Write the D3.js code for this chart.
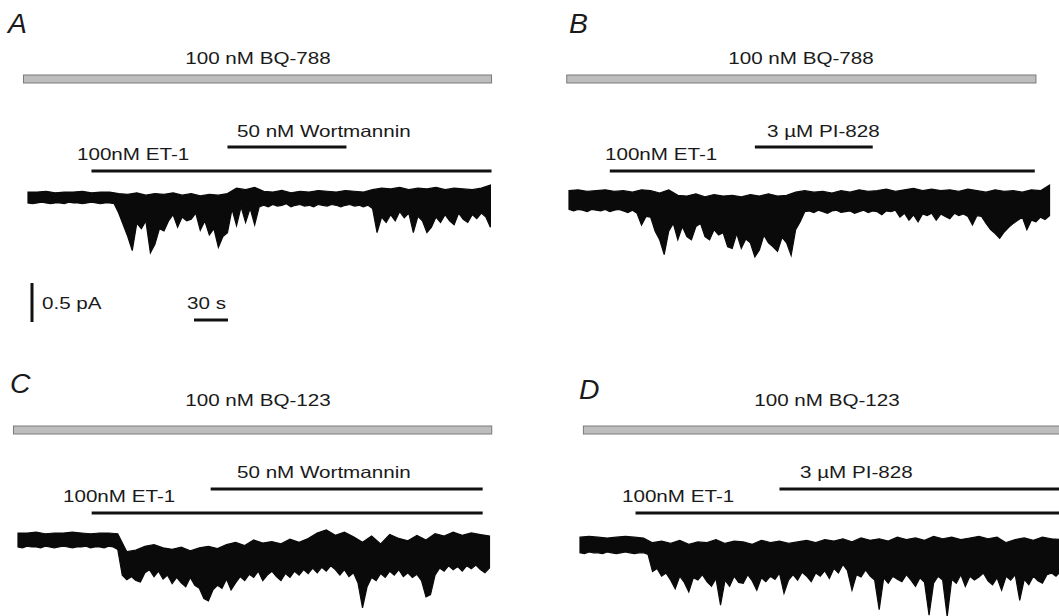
<!DOCTYPE html>
<html>
<head>
<meta charset="utf-8">
<script src="https://cdn.jsdelivr.net/npm/d3@7"></script>
<style>
  body { margin: 0; background: #fff; }
  text { font-family: "Liberation Sans", Arial, sans-serif; fill: #1a1a1a; }
</style>
</head>
<body>
<svg id="chart" width="1059" height="616"></svg>
<script>
// panel texts
const panelLetters = ["A", "B", "C", "D"]
const antagonists = ["100 nM BQ-788", "100 nM BQ-788", "100 nM BQ-123", "100 nM BQ-123"]
const inhibitors = ["50 nM Wortmannin", "3 µM PI-828", "50 nM Wortmannin", "3 µM PI-828"]
const agonist = "100nM ET-1"

// application periods, seconds from start of each recording
const antagonistSpan = [[-4, 409], [-2, 412], [-4, 418], [3, 430]]
const et1Span = [[56, 409], [36, 411], [65, 410], [49, 430]]
const inhibitorSpan = [[176, 281], [164, 268], [170, 410], [176, 430]]

// scale bars
const scaleCurrent = 0.5   // pA
const scaleTime = 30       // s

// current traces (pA, relative to resting level)
// lo = lower envelope every 4 s, hi = upper envelope every 8 s
const loStep = 4
const hiStep = 8

const traceA_lo = [-0.07,-0.08,-0.07,-0.06,-0.07,-0.08,-0.07,-0.07,-0.08,-0.06,-0.07,-0.07,-0.08,-0.07,-0.06,-0.07,-0.08,-0.07,-0.07,-0.08,
  -0.20,-0.35,-0.50,-0.68,-0.33,-0.40,-0.30,-0.71,-0.60,-0.40,-0.43,-0.30,-0.22,-0.38,-0.25,-0.30,-0.28,-0.20,-0.42,-0.30,-0.48,-0.40,-0.64,-0.50,-0.45,-0.15,-0.36,-0.12,-0.32,-0.14,-0.35,-0.12,
  -0.10,-0.12,-0.09,-0.11,-0.10,-0.08,-0.12,-0.10,-0.09,-0.11,-0.10,-0.12,-0.09,-0.10,-0.11,-0.09,-0.10,-0.12,-0.10,-0.09,-0.11,-0.10,-0.12,-0.10,-0.14,
  -0.45,-0.25,-0.32,-0.22,-0.30,-0.18,-0.26,-0.20,-0.45,-0.24,-0.30,-0.45,-0.38,-0.25,-0.32,-0.22,-0.30,-0.35,-0.20,-0.28,-0.32,-0.22,-0.27,-0.20,-0.25,-0.38]
const traceA_hi = [0.07,0.07,0.08,0.06,0.07,0.07,0.08,0.06,0.07,0.07,
  0.05,0.04,0.06,0.03,0.05,0.04,0.06,0.03,0.05,0.02,0.04,0.03,0.05,
  0.12,0.10,0.13,
  0.08,0.07,0.09,0.06,0.08,0.07,0.09,0.08,0.07,0.09,0.08,0.07,
  0.10,0.12,0.11,0.13,0.10,0.12,0.11,0.13,0.10,0.12,0.11,0.10,0.12,0.16]

const traceB_lo = [-0.12,-0.14,-0.12,-0.13,-0.15,-0.12,-0.13,-0.14,-0.12,-0.15,-0.13,-0.12,-0.14,-0.16,-0.13,
  -0.17,-0.32,-0.21,-0.22,-0.40,-0.51,-0.70,-0.40,-0.30,-0.51,-0.34,-0.47,-0.51,-0.34,-0.30,-0.47,-0.51,-0.38,-0.45,-0.42,
  -0.60,-0.62,-0.43,-0.62,-0.50,-0.55,-0.73,-0.64,-0.45,-0.55,-0.60,-0.66,-0.48,-0.55,-0.71,-0.38,-0.28,-0.15,
  -0.14,-0.16,-0.13,-0.15,-0.17,-0.14,-0.13,-0.16,-0.15,-0.14,-0.17,-0.15,-0.13,-0.16,-0.14,-0.15,-0.19,-0.14,-0.15,-0.13,
  -0.22,-0.17,-0.26,-0.19,-0.28,-0.18,-0.20,-0.17,-0.26,-0.18,-0.21,-0.24,-0.17,-0.20,-0.18,-0.21,-0.32,-0.20,-0.21,
  -0.30,-0.38,-0.43,-0.49,-0.41,-0.35,-0.30,-0.26,-0.22,-0.38,-0.26,-0.28,-0.22,-0.25,-0.20]
const traceB_hi = [0.12,0.13,0.11,0.12,0.13,0.11,0.12,0.10,0.13,
  0.12,0.09,0.13,0.06,0.05,0.08,0.04,0.07,0.05,0.06,0.04,0.07,0.05,0.08,0.05,0.06,0.10,
  0.12,0.10,0.11,0.09,0.12,0.10,0.13,0.11,0.12,0.14,0.11,0.13,0.15,0.12,0.14,0.12,0.13,0.11,0.14,0.12,0.10,0.13,0.11,0.12,0.10,0.13,0.12,0.19]

const traceC_lo = [-0.09,-0.10,-0.08,-0.09,-0.09,-0.10,-0.08,-0.09,-0.10,-0.09,-0.08,-0.09,-0.10,-0.09,-0.09,-0.08,-0.10,-0.09,-0.09,-0.10,-0.08,-0.09,
  -0.12,-0.45,-0.51,-0.47,-0.52,-0.54,-0.42,-0.38,-0.47,-0.40,-0.50,-0.45,-0.56,-0.48,-0.55,-0.60,-0.48,-0.58,-0.62,-0.75,-0.78,-0.64,-0.58,-0.62,-0.50,-0.64,
  -0.55,-0.47,-0.52,-0.44,-0.48,-0.40,-0.52,-0.45,-0.40,-0.47,-0.52,-0.43,-0.48,-0.40,-0.45,-0.38,-0.43,-0.36,-0.42,-0.35,-0.40,-0.33,-0.38,-0.45,-0.38,-0.47,-0.42,-0.55,
  -0.87,-0.60,-0.48,-0.52,-0.43,-0.48,-0.40,-0.45,-0.38,-0.47,-0.42,-0.48,-0.44,-0.52,-0.73,-0.70,-0.45,-0.36,-0.40,-0.33,-0.38,-0.34,-0.40,-0.33,-0.37,-0.32,-0.38,-0.42,-0.36]
const traceC_hi = [0.09,0.09,0.10,0.08,0.09,0.09,0.10,0.09,0.08,0.09,0.09,
  0.08,
  -0.15,-0.13,-0.08,-0.06,-0.10,-0.12,-0.09,-0.14,-0.10,-0.08,-0.11,-0.06,
  -0.03,-0.07,0.00,-0.04,-0.02,-0.05,0.01,-0.03,
  0.02,0.09,0.13,0.06,0.10,0.04,
  -0.03,0.05,-0.05,0.07,0.02,-0.01,0.06,0.00,
  0.08,0.05,0.10,0.06,0.09,0.07,0.05]

const traceD_lo = [-0.10,-0.11,-0.09,-0.10,-0.10,-0.11,-0.09,-0.10,-0.11,-0.10,-0.09,-0.10,-0.11,-0.10,-0.10,-0.12,
  -0.34,-0.30,-0.40,-0.36,-0.45,-0.56,-0.40,-0.48,-0.60,-0.42,-0.45,-0.38,-0.47,-0.53,-0.43,-0.77,-0.45,-0.53,-0.40,-0.48,-0.49,-0.38,-0.46,-0.58,
  -0.42,-0.47,-0.40,-0.44,-0.36,-0.62,-0.45,-0.38,-0.45,-0.35,-0.40,-0.47,-0.36,-0.40,-0.33,-0.43,-0.30,-0.36,-0.25,-0.33,-0.58,-0.38,-0.41,-0.32,
  -0.40,-0.45,-0.83,-0.42,-0.49,-0.40,-0.44,-0.47,-0.38,-0.45,-0.53,-0.42,-0.48,-0.90,-0.49,-0.40,-0.45,-0.92,-0.44,-0.49,-0.38,-0.53,-0.40,-0.45,
  -0.41,-0.36,-0.46,-0.51,-0.42,-0.58,-0.40,-0.45,-0.38,-0.71,-0.44,-0.51,-0.40,-0.46,-0.49,-0.38,-0.36,-0.40,-0.34]
const traceD_hi = [0.10,0.11,0.10,0.09,0.10,0.11,0.10,0.09,
  0.03,0.05,0.02,0.06,0.01,0.04,0.03,0.07,0.02,0.05,0.04,0.01,0.06,0.03,0.05,0.02,0.04,0.06,0.03,0.07,
  0.05,0.08,0.04,0.09,0.06,0.08,0.05,0.10,0.07,0.09,0.06,0.11,0.08,0.10,0.07,0.09,0.11,0.08,0.10,0.03,0.07,0.09,0.06,0.10,0.08,0.07]

const tracesLo = [traceA_lo, traceB_lo, traceC_lo, traceD_lo]
const tracesHi = [traceA_hi, traceB_hi, traceC_hi, traceD_hi]

// layout (pixels)
const pxPer30s = 34
const pxPerHalfPA = 39
const stretch = 1.25   // the original lettering is horizontally wide
const layout = [
  {x0: 28,  letterX: 8,   letterY: 33,  bqLabelX: 258, bqLabelY: 64,  bqY: 79,  drugLabelX: 237, drugLabelY: 137, drugY: 147, etLabelX: 77,  etLabelY: 160, etY: 171, base: 197.5},
  {x0: 569, letterX: 569, letterY: 33,  bqLabelX: 801, bqLabelY: 64,  bqY: 79,  drugLabelX: 767, drugLabelY: 137, drugY: 147, etLabelX: 605, etLabelY: 160, etY: 171, base: 200},
  {x0: 18,  letterX: 10,  letterY: 393, bqLabelX: 258, bqLabelY: 406, bqY: 430, drugLabelX: 237, drugLabelY: 478, drugY: 489, etLabelX: 63,  etLabelY: 502, etY: 513, base: 540},
  {x0: 580, letterX: 579, letterY: 399, bqLabelX: 827, bqLabelY: 406, bqY: 430, drugLabelX: 800, drugLabelY: 478, drugY: 489, etLabelX: 622, etLabelY: 502, etY: 513, base: 545}
]

const svg = d3.select("#chart")
svg.append("rect").attr("width", 1059).attr("height", 616).attr("fill", "#fff")

function label(g, str, x, y, anchor, size, italic, sx) {
  g.append("text")
    .attr("transform", `translate(${x},${y}) scale(${sx || stretch},1)`)
    .attr("text-anchor", anchor)
    .style("font-size", size + "px")
    .style("font-style", italic ? "italic" : "normal")
    .text(str)
}

const scales = []

layout.forEach((p, k) => {
  const g = svg.append("g")
  const x = d3.scaleLinear().domain([0, scaleTime]).range([p.x0, p.x0 + pxPer30s])
  const y = d3.scaleLinear().domain([0, scaleCurrent]).range([p.base, p.base - pxPerHalfPA])
  scales.push({x, y})

  label(g, panelLetters[k], p.letterX, p.letterY, "start", 27, true, 1.05)

  // antagonist (grey bar)
  label(g, antagonists[k], p.bqLabelX, p.bqLabelY, "middle", 16.5, false)
  g.append("rect")
    .attr("x", x(antagonistSpan[k][0]))
    .attr("y", p.bqY - 4)
    .attr("width", x(antagonistSpan[k][1]) - x(antagonistSpan[k][0]))
    .attr("height", 8)
    .attr("fill", "#bdbdbd")
    .attr("stroke", "#7a7a7a")
    .attr("stroke-width", 1)

  // inhibitor
  label(g, inhibitors[k], p.drugLabelX, p.drugLabelY, "start", 16.5, false)
  g.append("line")
    .attr("x1", x(inhibitorSpan[k][0])).attr("x2", x(inhibitorSpan[k][1]))
    .attr("y1", p.drugY).attr("y2", p.drugY)
    .attr("stroke", "#111").attr("stroke-width", 3)

  // ET-1
  label(g, agonist, p.etLabelX, p.etLabelY, "start", 16.5, false)
  g.append("line")
    .attr("x1", x(et1Span[k][0])).attr("x2", x(et1Span[k][1]))
    .attr("y1", p.etY).attr("y2", p.etY)
    .attr("stroke", "#111").attr("stroke-width", 3)

  // current trace: upper envelope forwards, lower envelope backwards
  const top = tracesHi[k].map((v, i) => [x(i * hiStep), y(v)])
  const bottom = tracesLo[k].map((v, i) => [x(i * loStep), y(v)]).reverse()
  g.append("path")
    .attr("d", d3.line()(top.concat(bottom)) + "Z")
    .attr("fill", "#0a0a0a")
    .attr("stroke", "#0a0a0a")
    .attr("stroke-width", 1.2)
    .attr("stroke-linejoin", "miter")
})

// scale bars (use panel A scales)
const sb = svg.append("g")
const yA = scales[0].y
const xA = scales[0].x
const vbX = 32, vbBottom = 322
sb.append("line")
  .attr("x1", vbX).attr("x2", vbX)
  .attr("y1", vbBottom).attr("y2", vbBottom - (yA(0) - yA(scaleCurrent)))
  .attr("stroke", "#111").attr("stroke-width", 3)
label(sb, scaleCurrent + " pA", 42, 309, "start", 16.5, false)

const hbX = 194, hbY = 320
sb.append("line")
  .attr("x1", hbX).attr("x2", hbX + (xA(scaleTime) - xA(0)))
  .attr("y1", hbY).attr("y2", hbY)
  .attr("stroke", "#111").attr("stroke-width", 3)
label(sb, scaleTime + " s", 187, 309, "start", 16.5, false)
</script>
</body>
</html>
